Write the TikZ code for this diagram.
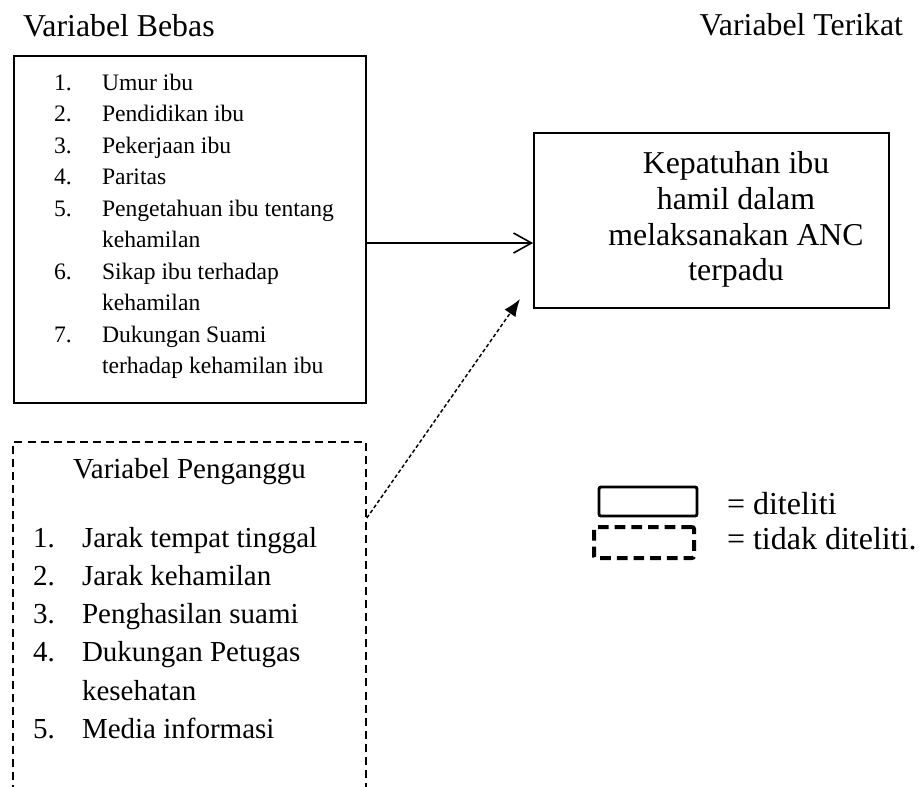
\documentclass[tikz,border=0pt]{standalone}
\usepackage{fontspec}
\setmainfont{Liberation Serif}
\usetikzlibrary{arrows.meta}
\tikzset{
  txt/.style={inner sep=0pt, outer sep=0pt},
  hdr/.style={txt, font=\fontsize{23.85pt}{28pt}\selectfont},
  lst/.style={txt, font=\fontsize{17.7pt}{21pt}\selectfont, anchor=base west},
  dlst/.style={txt, font=\fontsize{21.75pt}{26pt}\selectfont, anchor=base west},
  mtxt/.style={txt, font=\fontsize{23.85pt}{28pt}\selectfont, anchor=base},
  legtxt/.style={txt, font=\fontsize{24pt}{28pt}\selectfont, anchor=base west},
  solidbox/.style={draw, line width=1.3pt, inner sep=0pt},
  dashbox/.style={draw, line width=1.2pt, dash pattern=on 6pt off 3.8pt, inner sep=0pt},
  mainarrow/.style={line width=1.2pt, -{Straight Barb[length=13.5pt,width=15pt,line width=1.2pt]}},
  dasharrow/.style={line width=1.1pt, dash pattern=on 2.8pt off 1.8pt, -{Latex[length=13pt,width=10pt]}},
}
\begin{document}
\begin{tikzpicture}[x=0.75pt,y=-0.75pt]
\useasboundingbox (0,0) rectangle (919,786);
\clip (0,0) rectangle (919,786);

% headers
\node[hdr, anchor=base west] (lblbebas) at (23,36) {Variabel Bebas};
\node[hdr, anchor=base east] (lblterikat) at (903,35) {Variabel Terikat};

% boxes
\node[solidbox, minimum width=264pt, minimum height=260.25pt] (bebas) at (190,229.5) {};
\node[solidbox, minimum width=266.25pt, minimum height=131.25pt] (terikat) at (711.5,220.5) {};
\node[dashbox, minimum width=264.75pt, minimum height=291pt] (penganggu) at (189.5,636) {};

% variabel bebas list
\node[lst] (b1n) at (54,90) {1.};   \node[lst] (b1t) at (102,90) {Umur ibu};
\node[lst] (b2n) at (54,121.5) {2.}; \node[lst] (b2t) at (102,121.5) {Pendidikan ibu};
\node[lst] (b3n) at (54,153) {3.};  \node[lst] (b3t) at (102,153) {Pekerjaan ibu};
\node[lst] (b4n) at (54,184.5) {4.}; \node[lst] (b4t) at (102,184.5) {Paritas};
\node[lst] (b5n) at (54,216) {5.};  \node[lst] (b5t) at (102,216) {Pengetahuan ibu tentang};
\node[lst] (b5u) at (102,247.5) {kehamilan};
\node[lst] (b6n) at (54,279) {6.};  \node[lst] (b6t) at (102,279) {Sikap ibu terhadap};
\node[lst] (b6u) at (102,310.5) {kehamilan};
\node[lst] (b7n) at (54,342) {7.};  \node[lst] (b7t) at (102,342) {Dukungan Suami};
\node[lst] (b7u) at (102,373.5) {terhadap kehamilan ibu};

% variabel terikat text
\node[mtxt] (m1) at (736,173) {Kepatuhan ibu};
\node[mtxt] (m2) at (736,209) {hamil dalam};
\node[mtxt] (m3) at (736,245) {melaksanakan ANC};
\node[mtxt] (m4) at (736,280) {terpadu};

% variabel penganggu
\node[txt, font=\fontsize{21.75pt}{26pt}\selectfont, anchor=base] (ptitle) at (189.5,478) {Variabel Penganggu};
\node[dlst] (p1n) at (33,547) {1.};   \node[dlst] (p1t) at (82,547) {Jarak tempat tinggal};
\node[dlst] (p2n) at (33,585.3) {2.}; \node[dlst] (p2t) at (82,585.3) {Jarak kehamilan};
\node[dlst] (p3n) at (33,623.6) {3.}; \node[dlst] (p3t) at (82,623.6) {Penghasilan suami};
\node[dlst] (p4n) at (33,661.9) {4.}; \node[dlst] (p4t) at (82,661.9) {Dukungan Petugas};
\node[dlst] (p4u) at (82,700.2) {kesehatan};
\node[dlst] (p5n) at (33,738.5) {5.}; \node[dlst] (p5t) at (82,738.5) {Media informasi};

% connectors
\coordinate (hrow) at (0,243);
\draw[mainarrow] (hrow -| bebas.east) -- (hrow -| terikat.west);
\coordinate (drow) at (0,518);
\coordinate (dtip) at (520,299);
\draw[dasharrow] (drow -| penganggu.east) -- (dtip);

% legend
\node[draw, line width=2.2pt, rounded corners=1.5pt, minimum width=73.5pt, minimum height=21.75pt, inner sep=0pt] (legsolid) at (648,501.5) {};
\node[draw, line width=3pt, dash pattern=on 8pt off 4.5pt, rounded corners=1.5pt, minimum width=75pt, minimum height=23.25pt, inner sep=0pt] (legdash) at (644,542.5) {};
\node[legtxt] (legt1) at (727,514) {= diteliti};
\node[legtxt] (legt2) at (727,549) {= tidak diteliti.};
\end{tikzpicture}
\end{document}
